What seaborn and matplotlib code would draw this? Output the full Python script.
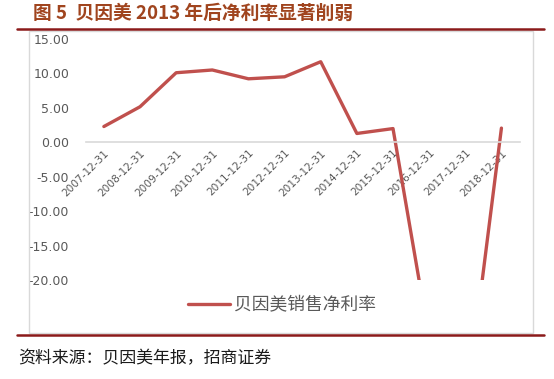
import matplotlib
matplotlib.use("Agg")
import matplotlib.pyplot as plt
import seaborn as sns
import pandas as pd
from matplotlib.patches import Rectangle
from matplotlib.lines import Line2D

dates = ["2007-12-31", "2008-12-31", "2009-12-31", "2010-12-31", "2011-12-31",
         "2012-12-31", "2013-12-31", "2014-12-31", "2015-12-31", "2016-12-31",
         "2017-12-31", "2018-12-31"]
net_margin = [2.29, 5.16, 10.1, 10.5, 9.22, 9.51, 11.7, 1.28, 1.99, -28.5, -39.5, 2.06]
y_ticks = [15, 10, 5, 0, -5, -10, -15, -20]
series_name = "贝因美销售净利率"
title = "图 5  贝因美 2013 年后净利率显著削弱"
source = "资料来源：贝因美年报，招商证券"

sns.set_theme(style="white")
plt.rcParams['font.family'] = ['Noto Sans CJK SC', 'DejaVu Sans']

W, H = 554, 379
fig = plt.figure(figsize=(W / 100, H / 100), dpi=100)

def fx(px):
    return px / W

def fy(py):
    return 1 - py / H

# axes: x categories padded half step; 15 at y=39, -20 at y=280
ax = fig.add_axes([fx(85.8), fy(280), fx(519.5) - fx(85.8), fy(39) - fy(280)])
df = pd.DataFrame({"date": dates, "value": net_margin})
sns.lineplot(data=df, x="date", y="value", ax=ax, sort=False, color="#C0504D",
             linewidth=2.4, legend=False)
ax.set_xlim(-0.5, len(dates) - 0.5)
ax.set_ylim(-20, 15)
ax.set_yticks(y_ticks)
ax.set_yticklabels([f"{v:.2f}" for v in y_ticks], fontsize=9.0, color="#595959",
                   family=['DejaVu Sans'])
ax.tick_params(axis='y', length=0, pad=12)
ax.set_xlabel("")
ax.set_ylabel("")
for s in ["top", "right", "left"]:
    ax.spines[s].set_visible(False)
ax.spines["bottom"].set_position(("data", 0))
ax.spines["bottom"].set_color("#D9D9D9")
ax.spines["bottom"].set_linewidth(1.2)
ax.set_xticks(range(len(dates)))
ax.set_xticklabels(dates, rotation=45, ha="right", rotation_mode="anchor",
                   fontsize=7.6, color="#595959", family=['DejaVu Sans'])
ax.tick_params(axis='x', length=0, pad=4)
ax.patch.set_alpha(0)

# chart frame
fig.patches.append(Rectangle((fx(29), fy(333)), fx(533) - fx(29), fy(31) - fy(333),
                             transform=fig.transFigure, fill=False,
                             edgecolor="#D9D9D9", linewidth=1.0))
# dark red rules
fig.lines.append(Line2D([fx(17), fx(544)], [fy(28.6), fy(28.6)], transform=fig.transFigure,
                        color="#8B1A1A", linewidth=1.8))
fig.lines.append(Line2D([fx(17), fx(544)], [fy(335), fy(335)], transform=fig.transFigure,
                        color="#8B1A1A", linewidth=1.8))

# legend
fig.lines.append(Line2D([fx(188), fx(230)], [fy(304), fy(304)], transform=fig.transFigure,
                        color="#C0504D", linewidth=2.4))
fig.text(fx(234), fy(304), series_name, fontsize=12.8, color="#595959",
         ha="left", va="center")

# title and source
fig.text(fx(33), fy(13), title, fontsize=13.5, fontweight="bold", color="#A0441E",
         ha="left", va="center")
fig.text(fx(18), fy(358), source, fontsize=12.2, color="#1a1a1a", ha="left", va="center")

fig.savefig("out.png", dpi=100)
